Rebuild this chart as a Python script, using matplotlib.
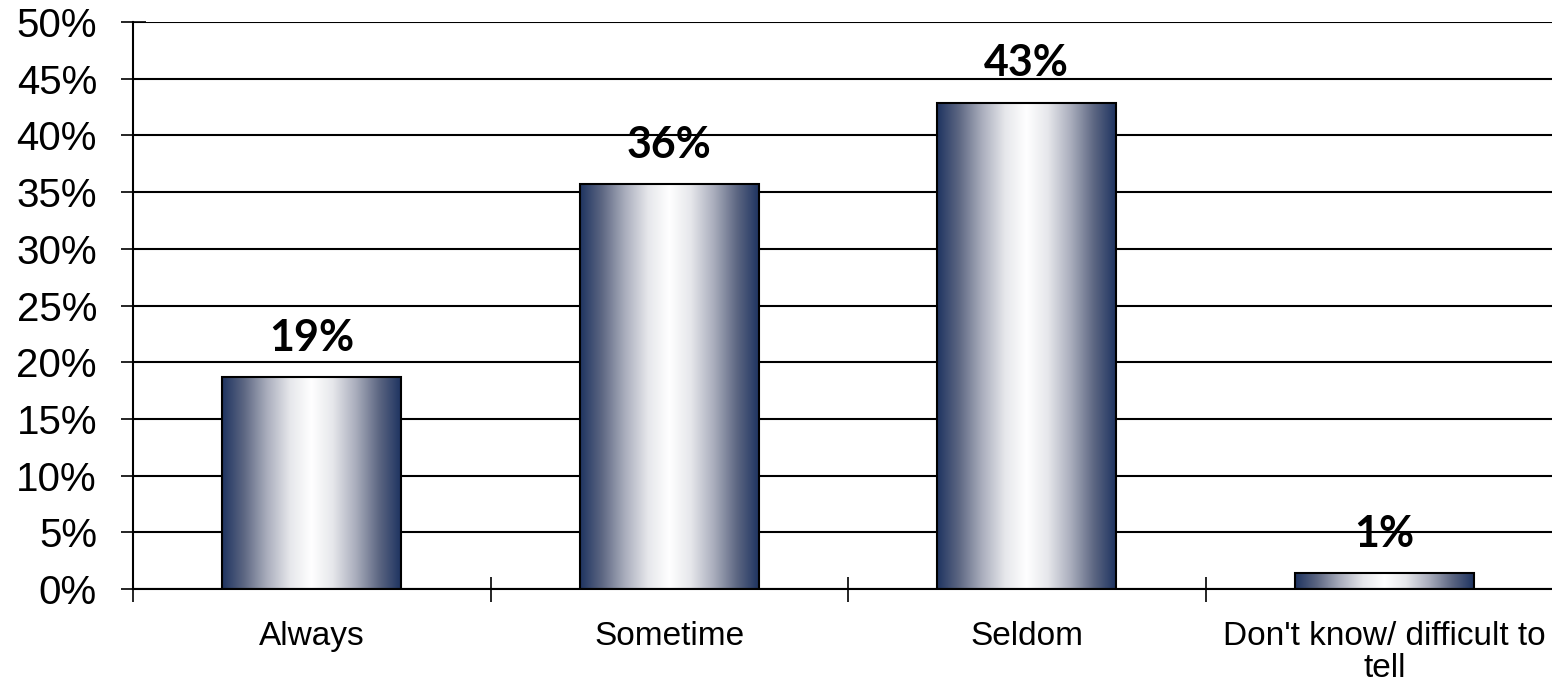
import numpy as np
import matplotlib.pyplot as plt
from matplotlib.colors import LinearSegmentedColormap
from matplotlib.ticker import FixedLocator

# dados
categorias = ['Always', 'Sometime', 'Seldom', "Don't know/ difficult to\ntell"]
valores = [18.7, 35.7, 42.9, 1.4]
rotulos = ['19%', '36%', '43%', '1%']
y_ticks = [0, 5, 10, 15, 20, 25, 30, 35, 40, 45, 50]

plt.rcParams['font.family'] = ['Liberation Sans', 'DejaVu Sans']

fig = plt.figure(figsize=(15.52, 6.83), dpi=100)
ax = fig.add_axes([0.0857, 0.1376, 0.9214, 0.8302])

# gradiente horizontal: azul escuro nas bordas, branco no centro
navy = '#1f3461'
cmap = LinearSegmentedColormap.from_list('barra', [
    (0.0, navy), (0.12, '#5c6682'), (0.25, '#a9adbc'), (0.38, '#e6e7eb'),
    (0.5, '#ffffff'), (0.62, '#e6e7eb'), (0.75, '#a9adbc'), (0.88, '#5c6682'),
    (1.0, navy)])
grad = np.linspace(0, 1, 256).reshape(1, -1)

x = np.arange(len(categorias))
barras = ax.bar(x, valores, width=0.5, facecolor='none', edgecolor='black',
                linewidth=1.5, zorder=3)
for b in barras:
    x0, y0 = b.get_x(), b.get_y()
    w, h = b.get_width(), b.get_height()
    im = ax.imshow(grad, cmap=cmap, aspect='auto', extent=[x0, x0 + w, y0, y0 + h],
                   zorder=2, interpolation='bilinear')
    im.set_clip_path(b)

for xi, v, r in zip(x, valores, rotulos):
    ax.text(xi, v + 1.7, r, ha='center', va='bottom', fontsize=31,
            fontweight='bold', family=['Lato', 'DejaVu Sans'])

ax.set_xlim(-0.5, len(categorias) - 0.5)
ax.set_ylim(0, 50)
ax.set_yticks(y_ticks)
ax.set_yticklabels([f'{t}%' for t in y_ticks], fontsize=29)
ax.yaxis.grid(True, color='black', linewidth=1.5, zorder=0)
ax.set_axisbelow(True)

# ticks nas fronteiras das categorias, rotulos no centro
ax.xaxis.set_major_locator(FixedLocator(np.arange(-0.5, len(categorias), 1.0)))
ax.xaxis.set_minor_locator(FixedLocator(x))
ax.set_xticklabels([])
ax.set_xticklabels(categorias, minor=True, fontsize=24, linespacing=1.05)
ax.tick_params(axis='x', which='major', direction='inout', length=18, width=1.2)
ax.tick_params(axis='x', which='minor', length=0, pad=23)
ax.tick_params(axis='y', direction='inout', length=18, width=1.2, pad=17)

for s in ['top', 'right']:
    ax.spines[s].set_visible(False)
ax.spines['left'].set_linewidth(1.5)
ax.spines['bottom'].set_linewidth(1.5)

fig.savefig('out.png', dpi=100)
